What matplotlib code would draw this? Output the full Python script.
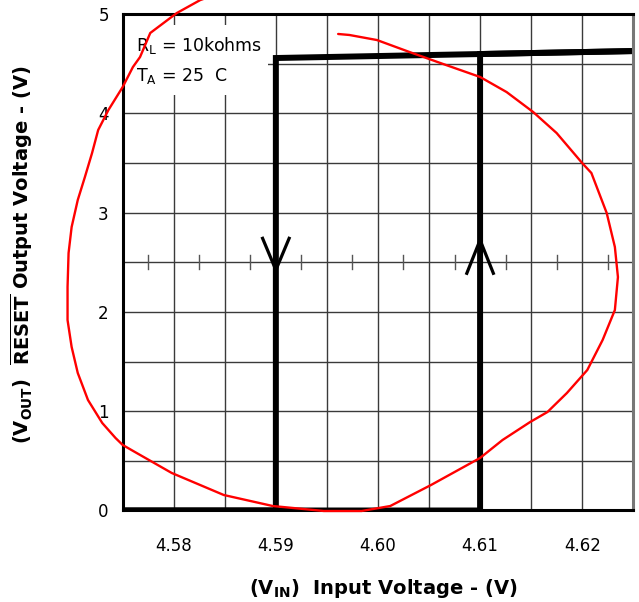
import matplotlib
matplotlib.use('Agg')
import matplotlib.pyplot as plt
import numpy as np

# hysteresis trace (RESET output vs input)
falling_x = [4.625, 4.59, 4.59, 4.575]
falling_y = [4.627, 4.557, 0.0, 0.0]
rising_x = [4.575, 4.61, 4.61, 4.625]
rising_y = [0.0, 0.0, 4.597, 4.627]

# hand-drawn red annotation loop
loop_x = [4.5961, 4.5972, 4.5999, 4.6031, 4.6061, 4.6100, 4.6126, 4.6152,
          4.6175, 4.6200, 4.6209, 4.6224, 4.6232, 4.6235, 4.6232, 4.6220,
          4.6205, 4.6185, 4.6166, 4.6149, 4.6122, 4.6100, 4.6052, 4.6012,
          4.5984, 4.5947, 4.5897, 4.5849, 4.5798, 4.5762, 4.5750, 4.5743,
          4.5730, 4.5716, 4.5706, 4.5700, 4.5696, 4.5696, 4.5697, 4.5700,
          4.5706, 4.5713, 4.5720, 4.5726, 4.5736, 4.5750, 4.5760, 4.5767,
          4.5777, 4.5803, 4.5826, 4.5840]
loop_y = [4.799, 4.789, 4.738, 4.617, 4.507, 4.366, 4.214, 4.013,
          3.801, 3.499, 3.399, 2.996, 2.654, 2.351, 2.019, 1.717,
          1.415, 1.183, 0.992, 0.891, 0.710, 0.529, 0.257, 0.045,
          -0.005, -0.005, 0.045, 0.156, 0.378, 0.589, 0.660, 0.730,
          0.881, 1.113, 1.385, 1.647, 1.918, 2.251, 2.593, 2.855,
          3.127, 3.359, 3.600, 3.832, 4.033, 4.265, 4.466, 4.567,
          4.809, 5.010, 5.141, 5.190]

x_ticks = [4.58, 4.59, 4.60, 4.61, 4.62]
x_labels = ['4.58', '4.59', '4.60', '4.61', '4.62']
y_ticks = [0, 1, 2, 3, 4, 5]

fig = plt.figure(figsize=(6.39, 6.02), dpi=100)
ax = fig.add_axes([0.192, 0.152, 0.799, 0.8247])
ax.set_xlim(4.575, 4.625)
ax.set_ylim(0, 5)

# grid
for gx in np.arange(4.575, 4.6251, 0.005):
    ax.axvline(gx, color='#3a3a3a', lw=1.0, zorder=1)
for gy in np.arange(0, 5.01, 0.5):
    ax.axhline(gy, color='#3a3a3a', lw=1.0, zorder=1)
# minor ticks along the 2.5 line
for tx in np.arange(4.5775, 4.625, 0.005):
    ax.plot([tx, tx], [2.43, 2.57], color='#555555', lw=1.0, zorder=1)

# annotation box
ax.fill_between([4.5751, 4.5892], 4.184, 4.889, color='white', zorder=2, lw=0)
ax.text(4.5763, 4.63, r'R$_\mathregular{L}$ = 10kohms', fontsize=12.5, zorder=3)
ax.text(4.5763, 4.33, r'T$_\mathregular{A}$ = 25  C', fontsize=12.5, zorder=3)

ax.plot(falling_x, falling_y, color='black', lw=4.3, solid_joinstyle='miter', zorder=4)
ax.plot(rising_x, rising_y, color='black', lw=4.3, solid_joinstyle='miter', zorder=4)

# direction chevrons
ax.plot([4.5887, 4.59, 4.5913], [2.741, 2.422, 2.741], color='black', lw=2.3, zorder=4)
ax.plot([4.6087, 4.61, 4.6113], [2.389, 2.724, 2.389], color='black', lw=2.3, zorder=4)

ax.plot(loop_x, loop_y, color='#ff0000', lw=1.7, zorder=6, clip_on=False,
        solid_joinstyle='round', solid_capstyle='round')

ax.set_xticks(x_ticks)
ax.set_xticklabels(x_labels)
ax.set_yticks(y_ticks)
ax.tick_params(axis='both', length=0, labelsize=12)
ax.tick_params(axis='x', pad=19)
ax.tick_params(axis='y', pad=10)

for s in ax.spines.values():
    s.set_linewidth(2.2)
    s.set_zorder(5)
ax.spines['right'].set_color('#777777')

ax.set_xlabel(r'(V$_\mathregular{IN}$)  Input Voltage - (V)', fontsize=14, fontweight='bold')
ax.xaxis.set_label_coords(0.51, -0.134)
ax.set_ylabel(r'(V$_\mathregular{OUT}$)  $\overline{\mathregular{RESET}}$ Output Voltage - (V)',
              fontsize=14, fontweight='bold')
ax.yaxis.set_label_coords(-0.172, 0.515)

fig.savefig('out.png', dpi=100)
